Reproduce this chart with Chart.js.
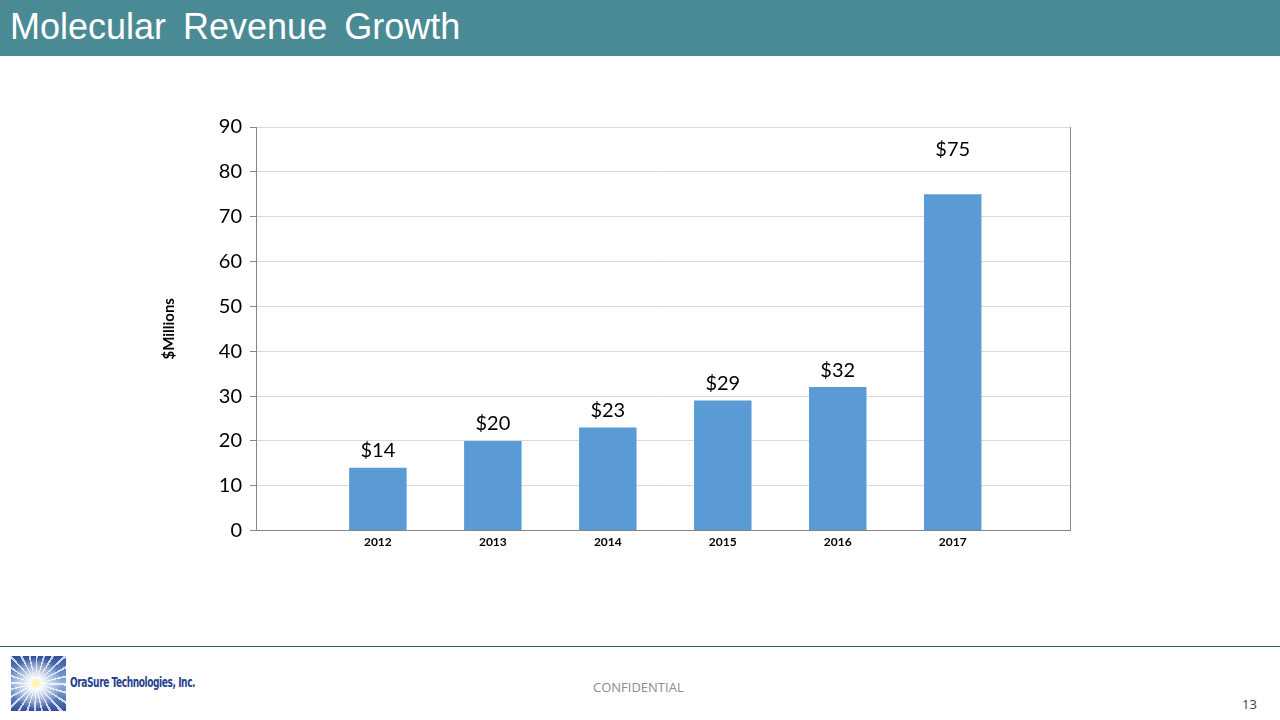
<!DOCTYPE html>
<html>
<head>
<meta charset="utf-8">
<script src="https://cdn.jsdelivr.net/npm/chart.js@4/dist/chart.umd.min.js"></script>
<style>
    html, body { margin: 0; padding: 0; background: #fff; }
    #slide { position: relative; width: 1280px; height: 720px; overflow: hidden; font-family: "Liberation Sans", Arial, sans-serif; }
    #titlebar { position: absolute; left: 0; top: 0; width: 1280px; height: 56px; background: #4a8a94; }
    #titlebar h1 { margin: 0; position: absolute; left: 10px; top: 6px; color: #fff; font-weight: normal; font-size: 36px; word-spacing: 7px; }
    #chartbox { position: absolute; left: 0; top: 0; width: 1280px; height: 640px; }
    #rule { position: absolute; left: 0; top: 646px; width: 1280px; height: 1px; background: #2e5c68; }
    #logo { position: absolute; left: 11px; top: 656px; width: 55px; height: 55px;
        background:
            radial-gradient(circle at 45% 50%, #fff7b0 0 3px, rgba(255,255,255,0.95) 6px, rgba(255,255,255,0) 26px),
            repeating-conic-gradient(from 0deg at 45% 50%, rgba(255,255,255,0.75) 0 4deg, rgba(255,255,255,0) 4deg 15deg),
            linear-gradient(#2f4f9a, #8fb0e0 50%, #2f4f9a);
    }
    #logotext { position: absolute; left: 70px; top: 674px; color: #27418a; font-family: "DejaVu Sans Condensed", "Liberation Sans Narrow", sans-serif; font-weight: bold; font-size: 14px; letter-spacing: -0.6px; transform: scaleX(0.72); transform-origin: left; }
    #conf { position: absolute; left: 593px; top: 678px; color: #8c8c8c; font-family: "Open Sans", sans-serif; font-size: 13px; }
    #page { position: absolute; left: 1242px; top: 695px; color: #404040; font-family: "Open Sans", sans-serif; font-size: 13px; }
</style>
</head>
<body>
<div id="slide">
    <div id="titlebar"><h1>Molecular Revenue Growth</h1></div>
    <div id="chartbox"><canvas id="revChart" width="1280" height="640"></canvas></div>
    <div id="rule"></div>
    <div id="logo"></div>
    <div id="logotext">OraSure Technologies, Inc.</div>
    <div id="conf">CONFIDENTIAL</div>
    <div id="page">13</div>
</div>
<script>
    var years = ['2012', '2013', '2014', '2015', '2016', '2017'];
    var revenue = [14, 20, 23, 29, 32, 75];
    var yTicks = [0, 10, 20, 30, 40, 50, 60, 70, 80, 90];

    // positions along a linear x so the empty margins on both sides match the slide
    var points = revenue.map(function (v, i) { return { x: i + 1, y: v }; });

    var labelLift = 17;
    var extraLift = { 5: 28 }; // the $75 label sits higher on the slide

    var barLabels = {
        id: 'barLabels',
        afterDatasetsDraw: function (chart) {
            var ctx = chart.ctx;
            var meta = chart.getDatasetMeta(0);
            ctx.save();
            ctx.fillStyle = '#000';
            ctx.font = '20px Lato, "Open Sans", sans-serif';
            ctx.textAlign = 'center';
            ctx.textBaseline = 'middle';
            meta.data.forEach(function (bar, i) {
                var lift = labelLift + (extraLift[i] || 0);
                ctx.fillText('$' + revenue[i], bar.x, bar.y - lift);
            });
            ctx.restore();
        }
    };

    var rightBorder = {
        id: 'rightBorder',
        afterDraw: function (chart) {
            var a = chart.chartArea;
            var ctx = chart.ctx;
            ctx.save();
            ctx.strokeStyle = '#868686';
            ctx.lineWidth = 1;
            ctx.beginPath();
            ctx.moveTo(Math.round(a.right) + 0.5, a.top);
            ctx.lineTo(Math.round(a.right) + 0.5, a.bottom);
            ctx.stroke();
            ctx.restore();
        }
    };

    var ctx = document.getElementById('revChart').getContext('2d');
    var revChart = new Chart(ctx, {
        type: 'bar',
        data: {
            datasets: [{
                data: points,
                backgroundColor: '#5b9bd5',
                barPercentage: 0.5,
                categoryPercentage: 1
            }]
        },
        options: {
            responsive: false,
            animation: false,
            maintainAspectRatio: false,
            layout: { padding: { left: 160, right: 210, top: 127, bottom: 87 } },
            plugins: { legend: { display: false }, tooltip: { enabled: false } },
            scales: {
                x: {
                    type: 'linear',
                    offset: false,
                    min: -0.06,
                    max: 7.02,
                    afterBuildTicks: function (scale) {
                        scale.ticks = years.map(function (y, i) { return { value: i + 1 }; });
                    },
                    ticks: {
                        color: '#000',
                        font: { family: 'Lato, "Open Sans", sans-serif', size: 12, weight: 'bold' },
                        padding: 4,
                        callback: function (v) { return years[v - 1] || ''; }
                    },
                    grid: { display: false, drawTicks: false },
                    border: { color: '#868686' }
                },
                y: {
                    min: 0,
                    max: 90,
                    afterBuildTicks: function (scale) {
                        scale.ticks = yTicks.map(function (v) { return { value: v }; });
                    },
                    afterFit: function (scale) { scale.width = 96; },
                    ticks: {
                        color: '#000',
                        font: { family: 'Lato, "Open Sans", sans-serif', size: 20 },
                        padding: 8
                    },
                    grid: { color: '#d9d9d9', tickLength: 6, tickColor: '#868686' },
                    border: { color: '#868686' },
                    title: {
                        display: true,
                        text: '$Millions',
                        color: '#000',
                        font: { family: 'Lato, "Open Sans", sans-serif', size: 15, weight: 'bold' },
                        padding: 0
                    }
                }
            }
        },
        plugins: [barLabels, rightBorder]
    });
</script>
</body>
</html>
